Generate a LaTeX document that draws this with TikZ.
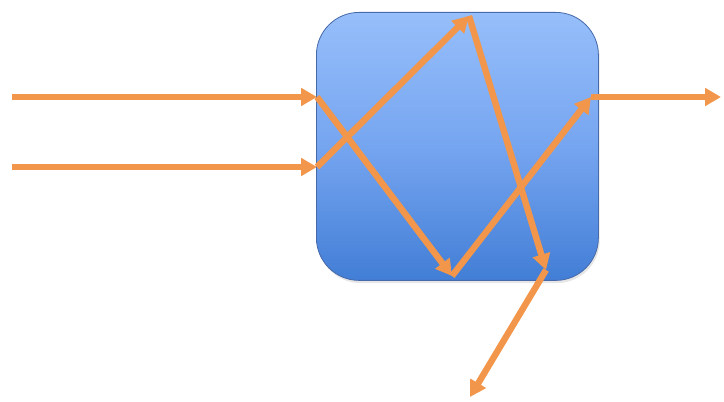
\documentclass[tikz,border=0pt]{standalone}
\usetikzlibrary{arrows.meta,shadows}
\definecolor{arrorange}{RGB}{241,150,74}
\definecolor{boxtop}{RGB}{150,190,250}
\definecolor{boxmid}{RGB}{118,165,240}
\definecolor{boxbot}{RGB}{66,126,214}
\definecolor{boxedge}{RGB}{70,105,170}
\tikzset{
  boxshape/.style={rectangle, rounded corners=32pt, draw=boxedge, line width=0.6pt,
    top color=boxtop, bottom color=boxbot, middle color=boxmid,
    drop shadow={opacity=0.2, shadow xshift=1pt, shadow yshift=-2pt},
    minimum width=211.5pt, minimum height=201pt, inner sep=0pt},
  flow/.style={draw=arrorange, line width=4.8pt, -{Triangle[length=12pt,width=13pt]}}
}
\begin{document}
\begin{tikzpicture}[x=0.75pt,y=-0.75pt]
\useasboundingbox (0,0) rectangle (724,402);
\node[boxshape, anchor=north west] (box) at (316,12) {};
\coordinate (in1s) at (12,97);
\coordinate (in1) at (317,97);
\coordinate (in2s) at (12,167);
\coordinate (in2) at (317,167);
\coordinate (topv) at (469,16);
\coordinate (botv) at (452,276);
\coordinate (dn) at (546,270);
\coordinate (outv) at (591,97);
\coordinate (outE) at (721,97);
\coordinate (low) at (470,397);
\draw[flow] (in1s) -- (in1);
\draw[flow] (in2s) -- (in2);
\draw[flow] (in1) -- (botv);
\draw[flow] (in2) -- (topv);
\draw[flow] (topv) -- (dn);
\draw[flow] (botv) -- (outv);
\draw[flow] (outv) -- (outE);
\draw[flow] (dn) -- (low);
\end{tikzpicture}
\end{document}
